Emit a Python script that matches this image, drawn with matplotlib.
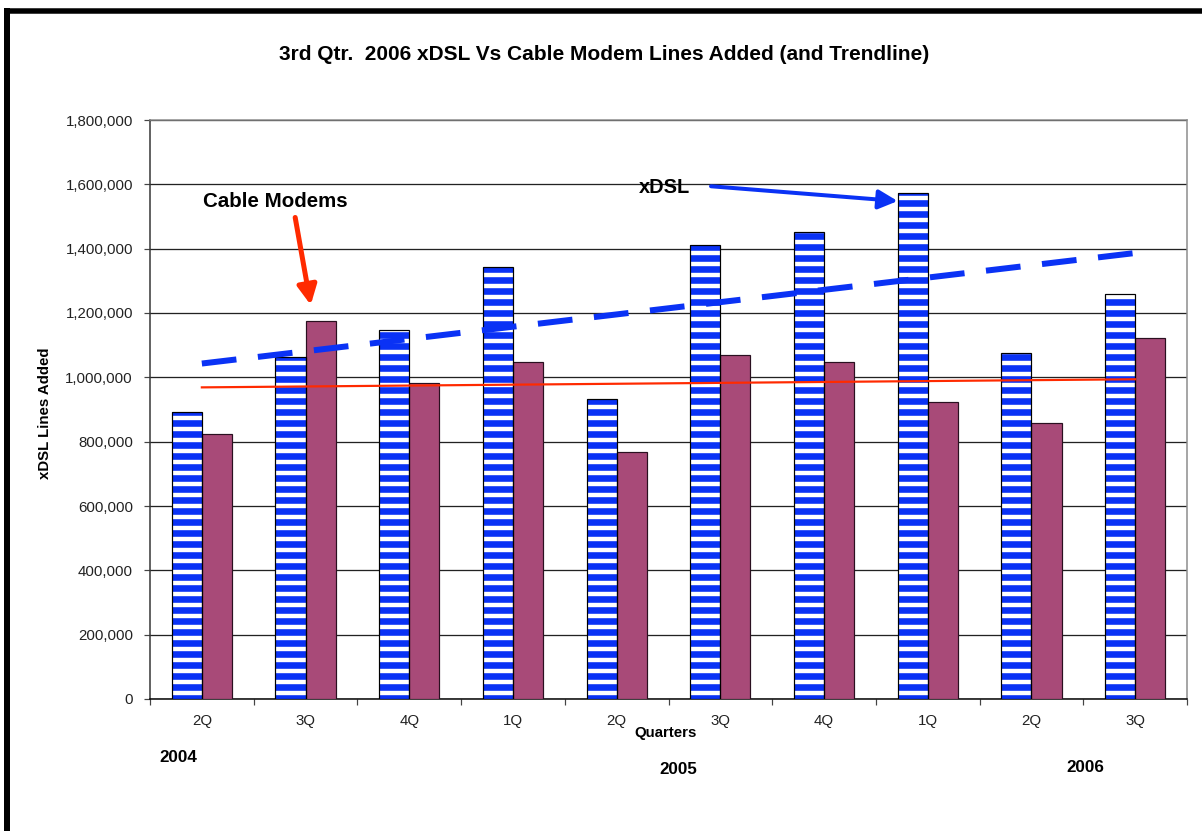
import matplotlib
matplotlib.use("Agg")
import matplotlib.pyplot as plt
import numpy as np
from matplotlib.lines import Line2D
from matplotlib.ticker import FuncFormatter, FixedLocator

plt.rcParams['font.family'] = ['Liberation Sans', 'DejaVu Sans']
plt.rcParams['hatch.linewidth'] = 3.6

quarters = ["2Q", "3Q", "4Q", "1Q", "2Q", "3Q", "4Q", "1Q", "2Q", "3Q"]
years = ["2004", "2005", "2006"]
xdsl = [893000, 1064000, 1146000, 1343000, 933000, 1410000, 1453000, 1572000, 1075000, 1258000]
cable = [823000, 1175000, 982000, 1048000, 768000, 1069000, 1048000, 923000, 857000, 1121000]

DPI = 132
W, H = 1202, 831
BLUE = "#0a32f5"
PLUM = "#a84a78"
RED = "#ff2a00"


def pt(px):
    return px * 72.0 / DPI


fig = plt.figure(figsize=(W / DPI, H / DPI), dpi=DPI)
ax = fig.add_axes([150 / W, 1 - 699 / H, 1037 / W, 579 / H])

x = np.arange(len(quarters))
bw = 0.29

# xDSL bars: white with blue horizontal stripes, then a black outline on top
ax.bar(x - bw / 2, xdsl, bw, color="white", edgecolor=BLUE, hatch="--", linewidth=0, zorder=3)
ax.bar(x - bw / 2, xdsl, bw, facecolor="none", edgecolor="black", linewidth=pt(1.2), zorder=4)
ax.bar(x + bw / 2, cable, bw, color=PLUM, edgecolor="#2a1020", linewidth=pt(1.2), zorder=3)

# linear trendlines
kx = np.polyfit(x, xdsl, 1)
kc = np.polyfit(x, cable, 1)
ax.plot(x, np.polyval(kx, x), color=BLUE, lw=pt(6), dashes=(5.8, 3.6), solid_capstyle="butt",
        dash_capstyle="butt", zorder=5)
ax.plot(x, np.polyval(kc, x), color=RED, lw=pt(2.2), zorder=5)

ax.set_xlim(-0.5, len(quarters) - 0.5)
ax.set_ylim(0, 1800000)
ax.yaxis.set_major_locator(FixedLocator(np.arange(0, 1800001, 200000)))
ax.yaxis.set_major_formatter(FuncFormatter(lambda v, p: f"{int(v):,}"))
ax.grid(axis="y", color="#222222", lw=pt(1.3), zorder=1)
ax.set_axisbelow(True)

ax.set_xticks(np.arange(-0.5, len(quarters)), [""] * (len(quarters) + 1))
ax.set_xticks(x, quarters, minor=True)
ax.tick_params(axis="x", which="major", length=pt(6), width=pt(1.2), color="#444444", direction="out")
ax.tick_params(axis="x", which="minor", length=0, pad=pt(15), labelsize=pt(15), labelcolor="#222222")
ax.tick_params(axis="y", length=pt(6), width=pt(1.2), color="#444444", pad=pt(11),
               labelsize=pt(15), labelcolor="#222222")

for s in ("top", "right"):
    ax.spines[s].set_color("#8a8a8a")
    ax.spines[s].set_linewidth(pt(1.5))
ax.spines["left"].set_color("#333333")
ax.spines["left"].set_linewidth(pt(1.5))
ax.spines["bottom"].set_color("black")
ax.spines["bottom"].set_linewidth(pt(1.5))

# callouts
ax.text(0.705, 1548000, "Cable Modems", ha="center", va="center", fontsize=pt(20.5),
        fontweight="bold", zorder=6)
ax.annotate("", xy=(1.05, 1225000), xytext=(0.90, 1497000),
            arrowprops=dict(arrowstyle="-|>", color=RED, lw=pt(5), mutation_scale=22,
                            shrinkA=0, shrinkB=0), zorder=6)
ax.text(4.457, 1589000, "xDSL", ha="center", va="center", fontsize=pt(20),
        fontweight="bold", zorder=6)
ax.annotate("", xy=(6.71, 1548000), xytext=(4.91, 1594000),
            arrowprops=dict(arrowstyle="-|>", color=BLUE, lw=pt(4), mutation_scale=22,
                            shrinkA=0, shrinkB=0), zorder=6)

fig.text(604 / W, 1 - 55 / H, "3rd Qtr.  2006 xDSL Vs Cable Modem Lines Added (and Trendline)",
         ha="center", va="center", fontsize=pt(20.9), fontweight="bold")
fig.text(45 / W, 1 - 413 / H, "xDSL Lines Added", rotation=90, ha="center", va="center",
         fontsize=pt(15), fontweight="bold")
fig.text(666 / W, 1 - 733 / H, "Quarters", ha="center", va="center", fontsize=pt(15), fontweight="bold")
for label, (px, py) in zip(years, [(178, 757), (678, 769), (1085, 768)]):
    fig.text(px / W, 1 - py / H, label, ha="center", va="center", fontsize=pt(17), fontweight="bold")

# page frame
fig.add_artist(Line2D([4 / W, 1], [1 - 10.5 / H, 1 - 10.5 / H], color="black", lw=pt(5.5),
                      transform=fig.transFigure, solid_capstyle="butt"))
fig.add_artist(Line2D([7 / W, 7 / W], [0, 1 - 8 / H], color="black", lw=pt(6),
                      transform=fig.transFigure, solid_capstyle="butt"))

fig.savefig("out.png", dpi=DPI)
